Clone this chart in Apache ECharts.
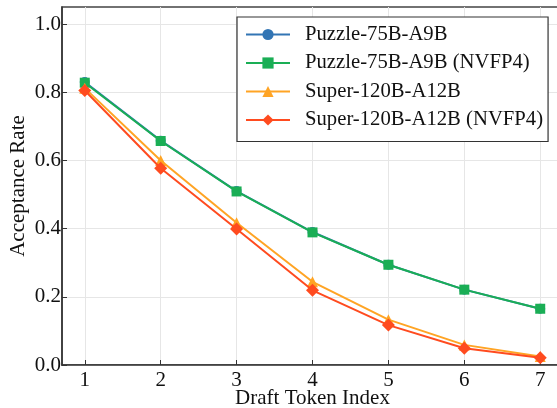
<!DOCTYPE html>
<html><head><meta charset="utf-8">
<script src="https://cdn.jsdelivr.net/npm/echarts@6/dist/echarts.min.js"></script>
<style>html,body{margin:0;padding:0;background:#fff}#c{width:557px;height:408px}</style>
</head><body><div id="c"></div>
<script>
const xValues = [1, 2, 3, 4, 5, 6, 7];
const seriesNames = ['Puzzle-75B-A9B', 'Puzzle-75B-A9B (NVFP4)', 'Super-120B-A12B', 'Super-120B-A12B (NVFP4)'];
const puzzle = [0.830, 0.658, 0.510, 0.390, 0.294, 0.221, 0.165];
const puzzleNvfp4 = [0.828, 0.657, 0.509, 0.389, 0.294, 0.221, 0.165];
const superBase = [0.812, 0.600, 0.417, 0.244, 0.133, 0.059, 0.025];
const superNvfp4 = [0.805, 0.577, 0.399, 0.219, 0.117, 0.049, 0.021];
const yTicks = [0, 0.2, 0.4, 0.6, 0.8, 1.0];

const font = 'Liberation Serif';
const colors = ['#3275b4', '#1aae55', '#ffa424', '#ff4b1f'];
const symbols = ['circle', 'rect', 'triangle', 'diamond'];
const sizes = [10, 10, 11, 13];
const datasets = [puzzle, puzzleNvfp4, superBase, superNvfp4];

const chart = echarts.init(document.getElementById('c'), null, {renderer: 'canvas'});
chart.setOption({
  animation: false,
  backgroundColor: '#fff',
  grid: {left: 62, right: -6, top: 7, bottom: 43, show: true, borderColor: '#444', borderWidth: 1.5,
    backgroundColor: 'transparent', containLabel: false, outerBoundsMode: 'none'},
  legend: {
    orient: 'vertical', left: 237, top: 17,
    backgroundColor: '#fff', borderColor: '#333', borderWidth: 1.2, borderRadius: 0,
    padding: [7, 5, 11, 8], itemWidth: 44, itemHeight: 14, itemGap: 7.5,
    textStyle: {fontFamily: font, fontSize: 20.7, color: '#111', lineHeight: 21, padding: [0, 0, 0, 10]},
    data: seriesNames
  },
  xAxis: {
    type: 'value', min: 0.7, max: 7.3,
    name: 'Draft Token Index', nameLocation: 'middle', nameGap: 23, nameMoveOverlap: false,
    nameTextStyle: {fontFamily: font, fontSize: 21, color: '#111'},
    axisLine: {show: true, lineStyle: {color: '#333', width: 1.5}},
    axisTick: {show: true, inside: true, length: 5, customValues: xValues, lineStyle: {color: '#333'}},
    axisLabel: {fontFamily: font, fontSize: 21, color: '#111', margin: 5, customValues: xValues},
    splitLine: {show: true, customValues: xValues, lineStyle: {color: '#e6e6e6', width: 1}}
  },
  yAxis: {
    type: 'value', min: 0, max: 1.05,
    name: 'Acceptance Rate', nameLocation: 'middle', nameGap: 33, nameMoveOverlap: false,
    nameTextStyle: {fontFamily: font, fontSize: 21, color: '#111'},
    axisLine: {show: true, lineStyle: {color: '#333', width: 1.5}},
    axisTick: {show: true, inside: true, length: 5, customValues: yTicks, lineStyle: {color: '#333'}},
    axisLabel: {fontFamily: font, fontSize: 21, color: '#111', margin: 1, customValues: yTicks,
      formatter: v => v.toFixed(1)},
    splitLine: {show: true, customValues: yTicks, lineStyle: {color: '#e6e6e6', width: 1}}
  },
  series: seriesNames.map((n, i) => ({
    name: n, type: 'line',
    data: xValues.map((x, j) => [x, datasets[i][j]]),
    symbol: symbols[i], symbolSize: sizes[i], showSymbol: true,
    lineStyle: {color: colors[i], width: 2},
    itemStyle: {color: colors[i]},
    z: 2 + i
  }))
});
</script></body></html>
